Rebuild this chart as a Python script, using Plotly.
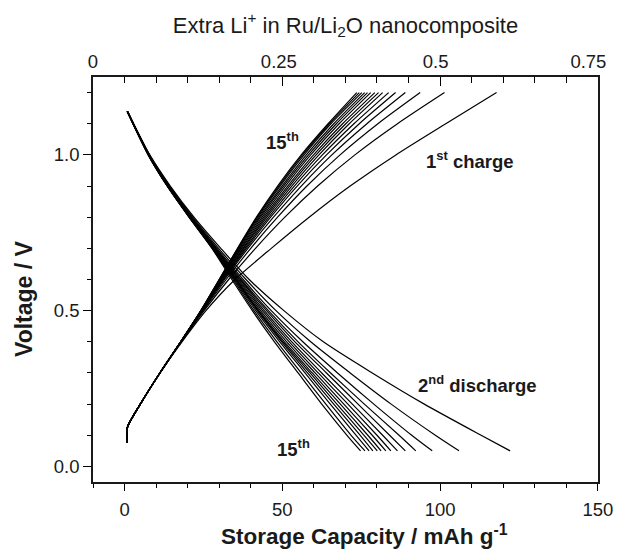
import plotly.graph_objects as go

# ---------------- data ----------------
# Charge curves: capacity (mAh/g) at fixed voltage levels
charge_voltage = [0.075, 0.125, 0.2, 0.3, 0.4, 0.5, 0.6, 0.7, 0.8, 0.9, 1.0, 1.1, 1.2]
charge_common = [0.8, 0.9, 5.0, 11.2]  # shared low-voltage part (0.075 .. 0.3 V)
charge_upper = {  # capacities at 0.4 .. 1.2 V, cycles 1..15
    1:  [18.2, 25.8, 35.0, 46.5, 58.5, 71.5, 86.0, 101.8, 117.9],
    2:  [18.0, 25.2, 33.0, 41.5, 50.8, 61.2, 73.0, 86.5, 101.4],
    3:  [17.9, 24.9, 32.2, 40.0, 48.5, 57.8, 68.3, 80.3, 93.7],
    4:  [17.9, 24.7, 31.7, 39.1, 47.2, 56.0, 65.7, 76.8, 89.0],
    5:  [17.8, 24.6, 31.4, 38.6, 46.3, 54.7, 64.0, 74.4, 85.9],
    6:  [17.8, 24.5, 31.2, 38.2, 45.7, 53.8, 62.7, 72.7, 83.7],
    7:  [17.8, 24.4, 31.0, 37.8, 45.1, 53.0, 61.6, 71.2, 81.8],
    8:  [17.8, 24.4, 30.8, 37.5, 44.6, 52.3, 60.7, 70.1, 80.5],
    9:  [17.8, 24.3, 30.6, 37.1, 44.1, 51.7, 59.9, 69.1, 79.3],
    10: [17.8, 24.3, 30.5, 36.8, 43.6, 51.0, 59.0, 68.0, 78.0],
    11: [17.8, 24.3, 30.3, 36.5, 43.1, 50.4, 58.3, 67.1, 77.0],
    12: [17.8, 24.2, 30.2, 36.2, 42.7, 49.9, 57.6, 66.3, 76.1],
    13: [17.8, 24.2, 30.1, 36.0, 42.3, 49.3, 56.9, 65.4, 75.2],
    14: [17.8, 24.2, 30.0, 35.9, 42.0, 48.9, 56.4, 64.9, 74.4],
    15: [17.8, 24.2, 30.0, 35.8, 41.8, 48.5, 56.0, 64.5, 73.6],
}

# Discharge curves (2nd .. 15th): capacity at fixed voltage levels
discharge_voltage = [1.14, 1.0, 0.9, 0.8, 0.7, 0.6, 0.5, 0.4, 0.3, 0.2, 0.1, 0.05]
discharge_caps = {
    2:  [0.9, 8.0, 14.5, 22.0, 30.5, 39.5, 50.5, 63.0, 78.5, 95.0, 113.0, 122.2],
    3:  [0.9, 7.9, 14.3, 21.6, 29.8, 38.5, 48.0, 59.0, 71.5, 84.5, 98.5, 106.0],
    4:  [0.9, 7.8, 14.1, 21.3, 29.3, 37.6, 46.5, 56.5, 67.5, 79.0, 91.0, 97.5],
    5:  [0.9, 7.8, 14.0, 21.1, 29.0, 37.0, 45.6, 55.0, 65.3, 76.0, 87.0, 92.3],
    6:  [0.9, 7.7, 13.9, 21.0, 28.8, 36.6, 45.0, 54.0, 64.0, 74.0, 84.0, 89.0],
    7:  [0.9, 7.7, 13.8, 20.9, 28.6, 36.2, 44.3, 53.0, 62.5, 72.2, 81.8, 86.5],
    8:  [0.9, 7.7, 13.8, 20.8, 28.4, 35.9, 43.7, 52.2, 61.4, 70.8, 80.0, 84.4],
    9:  [0.9, 7.6, 13.7, 20.7, 28.3, 35.6, 43.1, 51.4, 60.4, 69.5, 78.5, 82.8],
    10: [0.9, 7.6, 13.7, 20.7, 28.2, 35.4, 42.6, 50.7, 59.5, 68.4, 77.1, 81.3],
    11: [0.9, 7.6, 13.6, 20.6, 28.1, 35.2, 42.3, 50.2, 58.8, 67.3, 75.9, 80.1],
    12: [0.8, 7.6, 13.6, 20.6, 28.0, 35.0, 42.1, 49.8, 58.0, 66.3, 74.7, 78.7],
    13: [0.8, 7.5, 13.6, 20.5, 27.9, 34.7, 41.6, 49.2, 57.2, 65.2, 73.4, 77.5],
    14: [0.8, 7.5, 13.5, 20.5, 27.8, 34.4, 41.0, 48.3, 56.0, 63.8, 71.8, 76.2],
    15: [0.8, 7.5, 13.5, 20.4, 27.7, 34.0, 40.5, 47.5, 55.0, 62.5, 70.5, 74.8],
}

# Axis ticks
x_major = [0, 50, 100, 150]
y_major = [0.0, 0.5, 1.0]
y_major_text = ["0.0", "0.5", "1.0"]
top_labels_at = [-10, 48.9, 98.6, 147]          # where the top labels sit (bottom-axis units)
top_labels = ["0", "0.25", "0.5", "0.75"]
top_major_ticks = [50, 100]

# ---------------- figure ----------------
FONT = "Liberation Sans, Arial, sans-serif"
INK = "#1a1a1a"
XR = [-10, 150.05]
fig = go.Figure()

for n, upper in charge_upper.items():
    fig.add_trace(go.Scatter(
        x=charge_common + upper, y=charge_voltage, mode="lines",
        line=dict(color="black", width=1.2, shape="spline", smoothing=0.7),
        name=f"charge {n}", showlegend=False, hoverinfo="skip"))

for n, caps in discharge_caps.items():
    fig.add_trace(go.Scatter(
        x=caps, y=discharge_voltage, mode="lines",
        line=dict(color="black", width=1.2, shape="spline", smoothing=0.7),
        name=f"discharge {n}", showlegend=False, hoverinfo="skip"))

# empty traces so the overlay axes are drawn
fig.add_trace(go.Scatter(x=[None], y=[None], xaxis="x2", showlegend=False, hoverinfo="skip"))
fig.add_trace(go.Scatter(x=[None], y=[None], xaxis="x3", showlegend=False, hoverinfo="skip"))

lab = dict(family=FONT, size=18.5, color=INK)
fig.add_annotation(x=50, y=1.045, text="<b>15<sup>th</sup></b>", showarrow=False, font=lab)
fig.add_annotation(x=109.6, y=0.984, text="<b>1<sup>st</sup> charge</b>", showarrow=False, font=lab)
fig.add_annotation(x=111.8, y=0.266, text="<b>2<sup>nd</sup> discharge</b>", showarrow=False, font=lab)
fig.add_annotation(x=53.7, y=0.058, text="<b>15<sup>th</sup></b>", showarrow=False, font=lab)

# axis titles
fig.add_annotation(x=76, xref="x", y=-0.13, yref="paper", yanchor="middle",
                   text="<b>Storage Capacity / mAh g<sup>-1</sup></b>", showarrow=False,
                   font=dict(family=FONT, size=22.5, color=INK))
fig.add_annotation(x=-0.137, xref="paper", xanchor="center", y=0.54, yref="y",
                   text="<b>Voltage / V</b>", textangle=-90, showarrow=False,
                   font=dict(family=FONT, size=23, color=INK))

fig.update_layout(
    width=625, height=549,
    margin=dict(l=93, r=14, t=77, b=67),
    paper_bgcolor="white", plot_bgcolor="white",
    font=dict(family=FONT, color=INK),
    title=dict(text="Extra Li<sup>+</sup> in Ru/Li<sub>2</sub>O nanocomposite",
               x=0.5, xref="paper", y=1 - 25 / 549, yref="container",
               xanchor="center", yanchor="middle",
               font=dict(family=FONT, size=22, color=INK)),
    xaxis=dict(
        range=XR, showgrid=False, zeroline=False,
        showline=True, linecolor=INK, linewidth=1.5, mirror=True,
        tickmode="array", tickvals=x_major, ticktext=[str(v) for v in x_major],
        ticks="outside", ticklen=7, tickwidth=1.4, tickcolor="black",
        minor=dict(dtick=10, tick0=0, ticks="outside", ticklen=4.5, tickwidth=1.4, tickcolor="black"),
        tickfont=dict(family=FONT, size=18.5, color=INK), ticklabelstandoff=3,
    ),
    xaxis2=dict(
        overlaying="x", side="top", range=XR, showgrid=False, zeroline=False,
        showline=False, ticks="",
        tickmode="array", tickvals=top_labels_at, ticktext=top_labels,
        tickfont=dict(family=FONT, size=18.5, color=INK), ticklabelstandoff=4,
    ),
    # top tick marks pointing into the plot
    xaxis3=dict(
        overlaying="x", side="top",
        range=XR, showgrid=False, zeroline=False,
        showline=False, showticklabels=False,
        tickmode="array", tickvals=top_major_ticks,
        ticks="inside", ticklen=8.5, tickwidth=1.4, tickcolor="black",
        minor=dict(dtick=10, tick0=0, ticks="inside", ticklen=6, tickwidth=1.4, tickcolor="black"),
    ),
    yaxis=dict(
        range=[-0.05, 1.25], showgrid=False, zeroline=False,
        showline=True, linecolor=INK, linewidth=1.5, mirror=True,
        tickmode="array", tickvals=y_major, ticktext=y_major_text,
        ticks="outside", ticklen=8, tickwidth=1.4, tickcolor="black",
        minor=dict(dtick=0.1, tick0=0, ticks="outside", ticklen=4, tickwidth=1.4, tickcolor="black"),
        tickfont=dict(family=FONT, size=18.5, color=INK),
    ),
)

fig.write_html("out.html")
